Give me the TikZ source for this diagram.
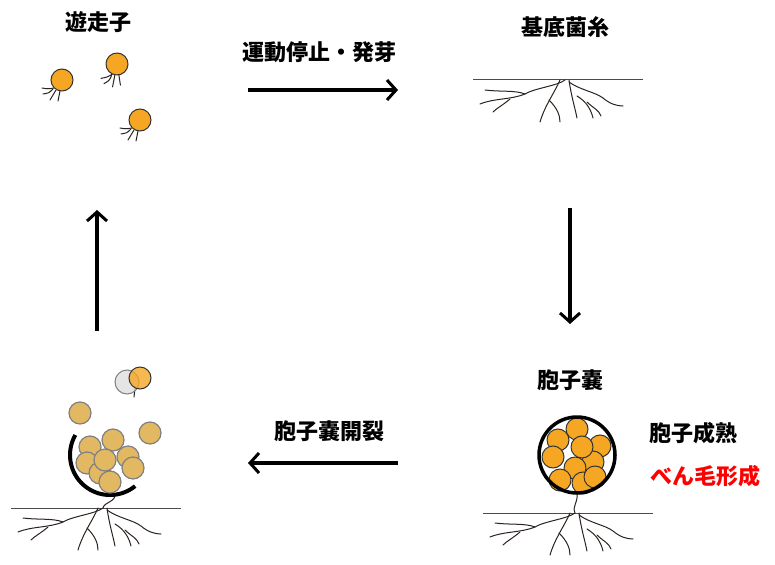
\documentclass[tikz,border=0pt]{standalone}
\usepackage{fontspec}
\setmainfont{Noto Sans CJK JP}
\usetikzlibrary{arrows.meta}
\definecolor{sporeor}{HTML}{F5A623}
\definecolor{sporetan}{HTML}{E3B862}
\definecolor{hypha}{HTML}{2B2320}

\tikzset{
  cyc/.style={line width=3.5pt, -{Straight Barb[length=9pt,width=20pt,line width=3pt]}},
  lbl/.style={font=\bfseries\fontsize{22}{24}\selectfont},
  spore/.style={fill=sporeor, draw=black!80, line width=1pt},
  oldspore/.style={fill=sporetan, draw=gray, line width=1.2pt},
  fila/.style={draw=hypha, line width=1pt, line cap=round},
  pics/myc/.style={code={%
    \draw[gray!60!black, line width=1pt] (-92,0) -- (78,0);
    \draw[fila] (0,0) .. controls (-8,6) and (-30,8) .. (-40,14) .. controls (-55,20) and (-70,18) .. (-85,24);
    \draw[fila] (-40,14) .. controls (-50,10) and (-65,12) .. (-80,10);
    \draw[fila] (-55,19) .. controls (-62,25) and (-68,28) .. (-72,32);
    \draw[fila] (-5,0) .. controls (-10,12) and (-20,25) .. (-25,42);
    \draw[fila] (-16,20) .. controls (-8,28) and (-5,35) .. (-5,42);
    \draw[fila] (4,0) .. controls (6,15) and (10,28) .. (12,38);
    \draw[fila] (4,2) .. controls (15,10) and (30,12) .. (38,18) .. controls (45,24) and (52,26) .. (58,26);
    \draw[fila] (12,16) .. controls (22,22) and (26,30) .. (28,38);
    \draw[fila] (22,22) .. controls (28,28) and (34,30) .. (36,36);
  }},
  pics/zoo/.style={code={%
    \draw[fila] (-8,8) .. controls (-14,9) .. (-20,8);
    \draw[fila] (-9,9) .. controls (-13,13) .. (-19,14);
    \draw[fila] (-6,10) .. controls (-9,15) .. (-12,20);
    \draw[fila] (-2,11) .. controls (-3,16) .. (-4,21);
    \draw[spore] (0,0) circle (11);
  }}
}

\begin{document}
\begin{tikzpicture}[x=1pt, y=-1pt]
\useasboundingbox (0,0) rectangle (775,564);

% labels
\node[lbl] (zooLbl) at (98,22) {遊走子};
\node[lbl] (mycLbl) at (565,27) {基底菌糸};
\node[lbl] (sporLbl) at (570,380) {胞子嚢};
\node[lbl] (germ) at (319,52) {運動停止・発芽};
\node[lbl] (burst) at (329,431) {胞子嚢開裂};
\node[lbl] (ripe) at (693,433) {胞子成熟};
\node[lbl, text=red] (flag) at (705,476) {べん毛形成};

% cycle arrows
\coordinate (a1) at (248,90);  \coordinate (a2) at (398,90);
\coordinate (b1) at (570,208); \coordinate (b2) at (570,324);
\coordinate (c1) at (398,463); \coordinate (c2) at (248,463);
\coordinate (d1) at (97,331);  \coordinate (d2) at (97,210);
\draw[cyc] (a1) -- (a2);
\draw[cyc] (b1) -- (b2);
\draw[cyc] (c1) -- (c2);
\draw[cyc] (d1) -- (d2);

% zoospores
\pic at (62,80) {zoo};
\pic[rotate=20] at (117,64) {zoo};
\pic at (140,120) {zoo};

% mycelium
\pic at (565,80) {myc};

% sporangium
\pic at (575,513) {myc};
\draw[fila] (577,494) .. controls (578,503) and (572,506) .. (575,513);
\foreach \x/\y in {558/440, 577/429, 600/446, 553/457, 593/462, 575/468, 582/447, 560/480, 583/483, 595/477}
  \draw[spore] (\x,\y) circle (11);
\draw[line width=3.5pt] (577,455) circle (38);

% burst sporangium
\pic at (103,508) {myc};
\draw[fila] (115,494) .. controls (116,502) and (104,502) .. (103,508);
\draw[line width=4pt] ({110+40*cos(210)},{455+40*sin(210)}) arc[start angle=210, end angle=51, radius=40];
\foreach \x/\y in {80/413, 150/433, 90/447, 113/440, 128/457, 87/463, 100/473, 110/482, 133/468, 105/460}
  \draw[oldspore] (\x,\y) circle (11);
\draw[fila] (135,388) -- (134,397);
\draw[draw=gray, fill=gray!25, fill opacity=0.8, line width=1pt] (127,382) circle (12);
\draw[spore, fill opacity=0.8] (140,378) circle (11);
\end{tikzpicture}
\end{document}
